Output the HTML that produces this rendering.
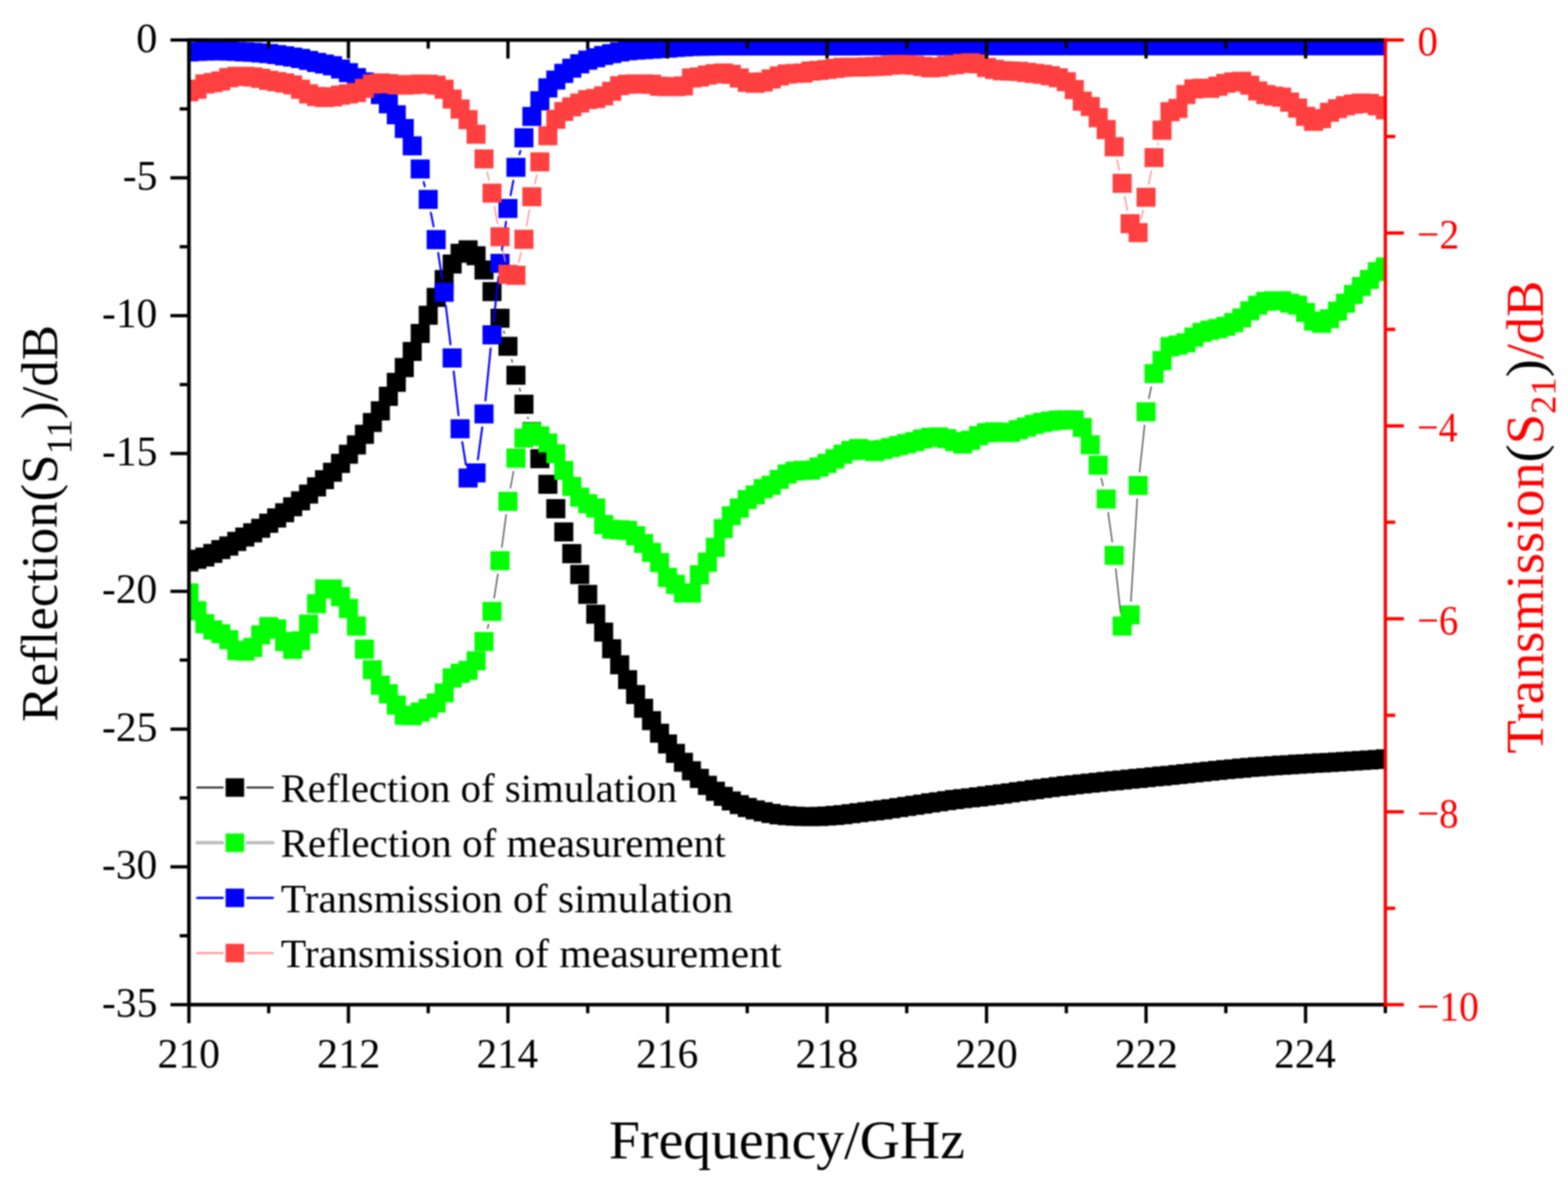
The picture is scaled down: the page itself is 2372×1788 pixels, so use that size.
<!DOCTYPE html>
<html><head><meta charset="utf-8"><title>Reflection and Transmission</title>
<style>html,body{margin:0;padding:0;background:#fff}svg{display:block;filter:blur(1.1px)}
text{font-family:"Liberation Serif",serif}</style></head>
<body>
<svg width="2372" height="1788" viewBox="0 0 2372 1788">
<rect width="2372" height="1788" fill="#fff"/>
<defs><clipPath id="pc"><rect x="285.8" y="60.5" width="1809.8999999999999" height="1459.3"/></clipPath></defs>
<g clip-path="url(#pc)">
<path d="M750.2 460.7L750.5 461.7M762.0 501.0L762.9 504.2M773.9 543.7L775.0 547.8M785.9 587.4L787.1 591.7M798.3 631.2L798.9 633.3M810.4 672.7L810.9 674.2" fill="none" stroke="#111" stroke-width="1.6" stroke-linecap="round"/>
<path d="M271.4 835.6h28.8v28.8h-28.8zM283.5 831.6h28.8v28.8h-28.8zM295.5 828.2h28.8v28.8h-28.8zM307.6 822.8h28.8v28.8h-28.8zM319.7 816.9h28.8v28.8h-28.8zM331.7 811.6h28.8v28.8h-28.8zM343.8 804.6h28.8v28.8h-28.8zM355.9 798.0h28.8v28.8h-28.8zM367.9 791.6h28.8v28.8h-28.8zM380.0 784.8h28.8v28.8h-28.8zM392.1 777.1h28.8v28.8h-28.8zM404.1 769.1h28.8v28.8h-28.8zM416.2 761.3h28.8v28.8h-28.8zM428.3 752.3h28.8v28.8h-28.8zM440.3 743.3h28.8v28.8h-28.8zM452.4 732.9h28.8v28.8h-28.8zM464.5 722.1h28.8v28.8h-28.8zM476.5 711.2h28.8v28.8h-28.8zM488.6 699.9h28.8v28.8h-28.8zM500.7 686.6h28.8v28.8h-28.8zM512.7 672.7h28.8v28.8h-28.8zM524.8 658.6h28.8v28.8h-28.8zM536.9 642.6h28.8v28.8h-28.8zM548.9 624.8h28.8v28.8h-28.8zM561.0 607.1h28.8v28.8h-28.8zM573.1 585.1h28.8v28.8h-28.8zM585.1 564.0h28.8v28.8h-28.8zM597.2 541.6h28.8v28.8h-28.8zM609.2 517.2h28.8v28.8h-28.8zM621.3 489.9h28.8v28.8h-28.8zM633.4 462.4h28.8v28.8h-28.8zM645.4 435.4h28.8v28.8h-28.8zM657.5 408.4h28.8v28.8h-28.8zM669.6 385.0h28.8v28.8h-28.8zM681.6 368.8h28.8v28.8h-28.8zM693.7 363.4h28.8v28.8h-28.8zM705.8 372.4h28.8v28.8h-28.8zM717.8 394.0h28.8v28.8h-28.8zM729.9 426.7h28.8v28.8h-28.8zM742.0 466.9h28.8v28.8h-28.8zM754.0 509.5h28.8v28.8h-28.8zM766.1 553.2h28.8v28.8h-28.8zM778.2 597.1h28.8v28.8h-28.8zM790.2 638.6h28.8v28.8h-28.8zM802.3 679.5h28.8v28.8h-28.8zM814.4 718.2h28.8v28.8h-28.8zM826.4 755.1h28.8v28.8h-28.8zM838.5 790.2h28.8v28.8h-28.8zM850.6 823.1h28.8v28.8h-28.8zM862.6 854.6h28.8v28.8h-28.8zM874.7 884.7h28.8v28.8h-28.8zM886.8 914.8h28.8v28.8h-28.8zM898.8 941.8h28.8v28.8h-28.8zM910.9 967.0h28.8v28.8h-28.8zM923.0 991.3h28.8v28.8h-28.8zM935.0 1013.8h28.8v28.8h-28.8zM947.1 1036.2h28.8v28.8h-28.8zM959.2 1056.9h28.8v28.8h-28.8zM971.2 1075.8h28.8v28.8h-28.8zM983.3 1094.7h28.8v28.8h-28.8zM995.4 1110.9h28.8v28.8h-28.8zM1007.4 1125.3h28.8v28.8h-28.8zM1019.5 1138.8h28.8v28.8h-28.8zM1031.6 1151.6h28.8v28.8h-28.8zM1043.6 1163.1h28.8v28.8h-28.8zM1055.7 1173.6h28.8v28.8h-28.8zM1067.8 1182.6h28.8v28.8h-28.8zM1079.8 1190.3h28.8v28.8h-28.8zM1091.9 1197.2h28.8v28.8h-28.8zM1104.0 1202.8h28.8v28.8h-28.8zM1116.0 1207.1h28.8v28.8h-28.8zM1128.1 1210.7h28.8v28.8h-28.8zM1140.2 1213.6h28.8v28.8h-28.8zM1152.2 1216.1h28.8v28.8h-28.8zM1164.3 1218.2h28.8v28.8h-28.8zM1176.3 1219.5h28.8v28.8h-28.8zM1188.4 1220.2h28.8v28.8h-28.8zM1200.5 1220.7h28.8v28.8h-28.8zM1212.5 1220.9h28.8v28.8h-28.8zM1224.6 1220.6h28.8v28.8h-28.8zM1236.7 1219.9h28.8v28.8h-28.8zM1248.7 1219.1h28.8v28.8h-28.8zM1260.8 1218.0h28.8v28.8h-28.8zM1272.9 1216.4h28.8v28.8h-28.8zM1284.9 1214.9h28.8v28.8h-28.8zM1297.0 1213.5h28.8v28.8h-28.8zM1309.1 1212.1h28.8v28.8h-28.8zM1321.1 1210.6h28.8v28.8h-28.8zM1333.2 1209.0h28.8v28.8h-28.8zM1345.3 1207.3h28.8v28.8h-28.8zM1357.3 1205.5h28.8v28.8h-28.8zM1369.4 1203.7h28.8v28.8h-28.8zM1381.5 1201.9h28.8v28.8h-28.8zM1393.5 1200.1h28.8v28.8h-28.8zM1405.6 1198.4h28.8v28.8h-28.8zM1417.7 1196.7h28.8v28.8h-28.8zM1429.7 1195.1h28.8v28.8h-28.8zM1441.8 1193.7h28.8v28.8h-28.8zM1453.9 1192.4h28.8v28.8h-28.8zM1465.9 1191.1h28.8v28.8h-28.8zM1478.0 1189.6h28.8v28.8h-28.8zM1490.1 1188.1h28.8v28.8h-28.8zM1502.1 1186.6h28.8v28.8h-28.8zM1514.2 1185.0h28.8v28.8h-28.8zM1526.3 1183.3h28.8v28.8h-28.8zM1538.3 1181.7h28.8v28.8h-28.8zM1550.4 1180.1h28.8v28.8h-28.8zM1562.5 1178.5h28.8v28.8h-28.8zM1574.5 1177.0h28.8v28.8h-28.8zM1586.6 1175.5h28.8v28.8h-28.8zM1598.7 1174.1h28.8v28.8h-28.8zM1610.7 1172.8h28.8v28.8h-28.8zM1622.8 1171.5h28.8v28.8h-28.8zM1634.9 1170.2h28.8v28.8h-28.8zM1646.9 1169.0h28.8v28.8h-28.8zM1659.0 1167.8h28.8v28.8h-28.8zM1671.1 1166.6h28.8v28.8h-28.8zM1683.1 1165.4h28.8v28.8h-28.8zM1695.2 1164.3h28.8v28.8h-28.8zM1707.3 1163.1h28.8v28.8h-28.8zM1719.3 1161.9h28.8v28.8h-28.8zM1731.4 1160.8h28.8v28.8h-28.8zM1743.5 1159.6h28.8v28.8h-28.8zM1755.5 1158.4h28.8v28.8h-28.8zM1767.6 1157.2h28.8v28.8h-28.8zM1779.6 1155.9h28.8v28.8h-28.8zM1791.7 1154.7h28.8v28.8h-28.8zM1803.8 1153.4h28.8v28.8h-28.8zM1815.8 1152.2h28.8v28.8h-28.8zM1827.9 1151.0h28.8v28.8h-28.8zM1840.0 1149.8h28.8v28.8h-28.8zM1852.0 1148.7h28.8v28.8h-28.8zM1864.1 1147.6h28.8v28.8h-28.8zM1876.2 1146.5h28.8v28.8h-28.8zM1888.2 1145.6h28.8v28.8h-28.8zM1900.3 1144.7h28.8v28.8h-28.8zM1912.4 1143.9h28.8v28.8h-28.8zM1924.4 1143.1h28.8v28.8h-28.8zM1936.5 1142.4h28.8v28.8h-28.8zM1948.6 1141.6h28.8v28.8h-28.8zM1960.6 1140.9h28.8v28.8h-28.8zM1972.7 1140.2h28.8v28.8h-28.8zM1984.8 1139.6h28.8v28.8h-28.8zM1996.8 1138.9h28.8v28.8h-28.8zM2008.9 1138.2h28.8v28.8h-28.8zM2021.0 1137.4h28.8v28.8h-28.8zM2033.0 1136.7h28.8v28.8h-28.8zM2045.1 1135.9h28.8v28.8h-28.8zM2057.2 1135.2h28.8v28.8h-28.8zM2069.2 1134.4h28.8v28.8h-28.8zM2081.3 1133.6h28.8v28.8h-28.8z" fill="#000"/>
<path d="M737.5 950.6L739.1 944.7M747.5 904.6L753.2 868.5M759.1 827.9L765.7 778.7M772.2 738.2L776.8 713.2M1666.0 723.7L1668.7 734.8M1676.3 775.1L1682.6 819.9M1687.8 860.6L1695.2 926.8M1710.8 909.6L1720.4 754.8M1723.9 713.9L1731.5 643.2M1737.9 602.7L1741.6 585.3" fill="none" stroke="#404040" stroke-width="1.8" stroke-linecap="round"/>
<path d="M271.4 882.6h28.8v28.8h-28.8zM283.5 909.6h28.8v28.8h-28.8zM295.5 929.1h28.8v28.8h-28.8zM307.6 938.6h28.8v28.8h-28.8zM319.7 944.2h28.8v28.8h-28.8zM331.7 953.2h28.8v28.8h-28.8zM343.8 969.6h28.8v28.8h-28.8zM355.9 970.8h28.8v28.8h-28.8zM367.9 965.1h28.8v28.8h-28.8zM380.0 946.0h28.8v28.8h-28.8zM392.1 933.6h28.8v28.8h-28.8zM404.1 937.1h28.8v28.8h-28.8zM416.2 956.1h28.8v28.8h-28.8zM428.3 967.9h28.8v28.8h-28.8zM440.3 954.9h28.8v28.8h-28.8zM452.4 929.8h28.8v28.8h-28.8zM464.5 898.8h28.8v28.8h-28.8zM476.5 876.6h28.8v28.8h-28.8zM488.6 876.6h28.8v28.8h-28.8zM500.7 888.1h28.8v28.8h-28.8zM512.7 906.1h28.8v28.8h-28.8zM524.8 932.6h28.8v28.8h-28.8zM536.9 967.6h28.8v28.8h-28.8zM548.9 998.8h28.8v28.8h-28.8zM561.0 1022.1h28.8v28.8h-28.8zM573.1 1035.1h28.8v28.8h-28.8zM585.1 1052.3h28.8v28.8h-28.8zM597.2 1067.6h28.8v28.8h-28.8zM609.2 1068.3h28.8v28.8h-28.8zM621.3 1062.8h28.8v28.8h-28.8zM633.4 1056.9h28.8v28.8h-28.8zM645.4 1049.0h28.8v28.8h-28.8zM657.5 1033.8h28.8v28.8h-28.8zM669.6 1011.1h28.8v28.8h-28.8zM681.6 1004.1h28.8v28.8h-28.8zM693.7 999.8h28.8v28.8h-28.8zM705.8 985.3h28.8v28.8h-28.8zM717.8 956.0h28.8v28.8h-28.8zM729.9 910.5h28.8v28.8h-28.8zM742.0 833.8h28.8v28.8h-28.8zM754.0 744.0h28.8v28.8h-28.8zM766.1 678.6h28.8v28.8h-28.8zM778.2 648.2h28.8v28.8h-28.8zM790.2 639.2h28.8v28.8h-28.8zM802.3 645.0h28.8v28.8h-28.8zM814.4 655.8h28.8v28.8h-28.8zM826.4 672.0h28.8v28.8h-28.8zM838.5 697.2h28.8v28.8h-28.8zM850.6 721.5h28.8v28.8h-28.8zM862.6 737.7h28.8v28.8h-28.8zM874.7 747.6h28.8v28.8h-28.8zM886.8 753.9h28.8v28.8h-28.8zM898.8 779.1h28.8v28.8h-28.8zM910.9 786.2h28.8v28.8h-28.8zM923.0 787.1h28.8v28.8h-28.8zM935.0 788.0h28.8v28.8h-28.8zM947.1 796.1h28.8v28.8h-28.8zM959.2 807.8h28.8v28.8h-28.8zM971.2 821.3h28.8v28.8h-28.8zM983.3 836.6h28.8v28.8h-28.8zM995.4 859.1h28.8v28.8h-28.8zM1007.4 869.6h28.8v28.8h-28.8zM1019.5 882.6h28.8v28.8h-28.8zM1031.6 882.6h28.8v28.8h-28.8zM1043.6 855.1h28.8v28.8h-28.8zM1055.7 836.1h28.8v28.8h-28.8zM1067.8 813.6h28.8v28.8h-28.8zM1079.8 785.3h28.8v28.8h-28.8zM1091.9 765.8h28.8v28.8h-28.8zM1104.0 754.1h28.8v28.8h-28.8zM1116.0 741.2h28.8v28.8h-28.8zM1128.1 734.2h28.8v28.8h-28.8zM1140.2 724.8h28.8v28.8h-28.8zM1152.2 719.8h28.8v28.8h-28.8zM1164.3 710.8h28.8v28.8h-28.8zM1176.3 702.6h28.8v28.8h-28.8zM1188.4 698.3h28.8v28.8h-28.8zM1200.5 697.1h28.8v28.8h-28.8zM1212.5 696.8h28.8v28.8h-28.8zM1224.6 692.1h28.8v28.8h-28.8zM1236.7 686.6h28.8v28.8h-28.8zM1248.7 679.6h28.8v28.8h-28.8zM1260.8 672.6h28.8v28.8h-28.8zM1272.9 667.1h28.8v28.8h-28.8zM1284.9 664.1h28.8v28.8h-28.8zM1297.0 666.6h28.8v28.8h-28.8zM1309.1 668.6h28.8v28.8h-28.8zM1321.1 665.6h28.8v28.8h-28.8zM1333.2 662.6h28.8v28.8h-28.8zM1345.3 659.6h28.8v28.8h-28.8zM1357.3 656.6h28.8v28.8h-28.8zM1369.4 653.6h28.8v28.8h-28.8zM1381.5 649.6h28.8v28.8h-28.8zM1393.5 647.1h28.8v28.8h-28.8zM1405.6 646.6h28.8v28.8h-28.8zM1417.7 649.1h28.8v28.8h-28.8zM1429.7 653.6h28.8v28.8h-28.8zM1441.8 657.1h28.8v28.8h-28.8zM1453.9 651.6h28.8v28.8h-28.8zM1465.9 644.6h28.8v28.8h-28.8zM1478.0 640.1h28.8v28.8h-28.8zM1490.1 638.8h28.8v28.8h-28.8zM1502.1 639.6h28.8v28.8h-28.8zM1514.2 639.6h28.8v28.8h-28.8zM1526.3 635.6h28.8v28.8h-28.8zM1538.3 631.6h28.8v28.8h-28.8zM1550.4 627.6h28.8v28.8h-28.8zM1562.5 624.6h28.8v28.8h-28.8zM1574.5 622.6h28.8v28.8h-28.8zM1586.6 621.1h28.8v28.8h-28.8zM1598.7 620.6h28.8v28.8h-28.8zM1610.7 620.8h28.8v28.8h-28.8zM1622.8 632.3h28.8v28.8h-28.8zM1634.9 658.4h28.8v28.8h-28.8zM1646.9 689.3h28.8v28.8h-28.8zM1659.0 740.4h28.8v28.8h-28.8zM1671.1 825.8h28.8v28.8h-28.8zM1683.1 932.8h28.8v28.8h-28.8zM1695.2 915.7h28.8v28.8h-28.8zM1707.3 719.9h28.8v28.8h-28.8zM1719.3 608.4h28.8v28.8h-28.8zM1731.4 550.8h28.8v28.8h-28.8zM1743.5 531.1h28.8v28.8h-28.8zM1755.5 510.1h28.8v28.8h-28.8zM1767.6 507.6h28.8v28.8h-28.8zM1779.6 504.3h28.8v28.8h-28.8zM1791.7 495.6h28.8v28.8h-28.8zM1803.8 488.4h28.8v28.8h-28.8zM1815.8 485.1h28.8v28.8h-28.8zM1827.9 482.6h28.8v28.8h-28.8zM1840.0 479.3h28.8v28.8h-28.8zM1852.0 473.6h28.8v28.8h-28.8zM1864.1 466.4h28.8v28.8h-28.8zM1876.2 455.8h28.8v28.8h-28.8zM1888.2 447.2h28.8v28.8h-28.8zM1900.3 441.4h28.8v28.8h-28.8zM1912.4 440.6h28.8v28.8h-28.8zM1924.4 440.6h28.8v28.8h-28.8zM1936.5 444.3h28.8v28.8h-28.8zM1948.6 447.2h28.8v28.8h-28.8zM1960.6 458.2h28.8v28.8h-28.8zM1972.7 471.2h28.8v28.8h-28.8zM1984.8 474.6h28.8v28.8h-28.8zM1996.8 467.8h28.8v28.8h-28.8zM2008.9 456.3h28.8v28.8h-28.8zM2021.0 444.3h28.8v28.8h-28.8zM2033.0 430.9h28.8v28.8h-28.8zM2045.1 418.9h28.8v28.8h-28.8zM2057.2 408.3h28.8v28.8h-28.8zM2069.2 396.4h28.8v28.8h-28.8zM2081.3 389.6h28.8v28.8h-28.8z" fill="#00ff00"/>
<path d="M640.9 275.4L642.6 281.9M651.8 321.8L655.9 342.4M662.9 382.8L668.8 421.7M674.4 462.4L681.5 521.1M686.3 561.9L693.7 628.2M699.3 668.8L704.8 703.0M722.9 695.1L729.5 646.5M734.3 605.8L742.3 526.9M746.6 486.1L754.1 418.8M759.3 378.1L765.5 335.6M772.4 295.2L776.6 273.3M785.8 233.4L787.2 228.3" fill="none" stroke="#0000ff" stroke-width="3" stroke-linecap="round"/>
<path d="M271.4 64.1h28.8v28.8h-28.8zM283.5 63.4h28.8v28.8h-28.8zM295.5 62.9h28.8v28.8h-28.8zM307.6 62.7h28.8v28.8h-28.8zM319.7 62.8h28.8v28.8h-28.8zM331.7 63.0h28.8v28.8h-28.8zM343.8 63.4h28.8v28.8h-28.8zM355.9 64.1h28.8v28.8h-28.8zM367.9 64.8h28.8v28.8h-28.8zM380.0 65.6h28.8v28.8h-28.8zM392.1 66.6h28.8v28.8h-28.8zM404.1 68.2h28.8v28.8h-28.8zM416.2 70.1h28.8v28.8h-28.8zM428.3 72.0h28.8v28.8h-28.8zM440.3 74.1h28.8v28.8h-28.8zM452.4 77.0h28.8v28.8h-28.8zM464.5 80.1h28.8v28.8h-28.8zM476.5 82.4h28.8v28.8h-28.8zM488.6 85.1h28.8v28.8h-28.8zM500.7 90.0h28.8v28.8h-28.8zM512.7 95.4h28.8v28.8h-28.8zM524.8 102.9h28.8v28.8h-28.8zM536.9 109.6h28.8v28.8h-28.8zM548.9 117.6h28.8v28.8h-28.8zM561.0 128.8h28.8v28.8h-28.8zM573.1 142.6h28.8v28.8h-28.8zM585.1 159.2h28.8v28.8h-28.8zM597.2 179.9h28.8v28.8h-28.8zM609.2 206.2h28.8v28.8h-28.8zM621.3 241.2h28.8v28.8h-28.8zM633.4 287.3h28.8v28.8h-28.8zM645.4 348.1h28.8v28.8h-28.8zM657.5 427.6h28.8v28.8h-28.8zM669.6 527.1h28.8v28.8h-28.8zM681.6 634.2h28.8v28.8h-28.8zM693.7 708.8h28.8v28.8h-28.8zM705.8 701.0h28.8v28.8h-28.8zM717.8 611.8h28.8v28.8h-28.8zM729.9 492.1h28.8v28.8h-28.8zM742.0 384.0h28.8v28.8h-28.8zM754.0 300.9h28.8v28.8h-28.8zM766.1 238.8h28.8v28.8h-28.8zM778.2 194.1h28.8v28.8h-28.8zM790.2 161.8h28.8v28.8h-28.8zM802.3 138.1h28.8v28.8h-28.8zM814.4 118.6h28.8v28.8h-28.8zM826.4 106.8h28.8v28.8h-28.8zM838.5 96.6h28.8v28.8h-28.8zM850.6 88.8h28.8v28.8h-28.8zM862.6 82.1h28.8v28.8h-28.8zM874.7 76.6h28.8v28.8h-28.8zM886.8 72.9h28.8v28.8h-28.8zM898.8 69.5h28.8v28.8h-28.8zM910.9 66.8h28.8v28.8h-28.8zM923.0 64.1h28.8v28.8h-28.8zM935.0 62.4h28.8v28.8h-28.8zM947.1 61.4h28.8v28.8h-28.8zM959.2 60.6h28.8v28.8h-28.8zM971.2 59.9h28.8v28.8h-28.8zM983.3 59.2h28.8v28.8h-28.8zM995.4 58.5h28.8v28.8h-28.8zM1007.4 57.5h28.8v28.8h-28.8zM1019.5 56.6h28.8v28.8h-28.8zM1031.6 56.0h28.8v28.8h-28.8zM1043.6 55.6h28.8v28.8h-28.8zM1055.7 55.4h28.8v28.8h-28.8zM1067.8 55.3h28.8v28.8h-28.8zM1079.8 55.3h28.8v28.8h-28.8zM1091.9 55.2h28.8v28.8h-28.8zM1104.0 55.2h28.8v28.8h-28.8zM1116.0 55.2h28.8v28.8h-28.8zM1128.1 55.2h28.8v28.8h-28.8zM1140.2 55.1h28.8v28.8h-28.8zM1152.2 55.1h28.8v28.8h-28.8zM1164.3 55.1h28.8v28.8h-28.8zM1176.3 55.1h28.8v28.8h-28.8zM1188.4 55.1h28.8v28.8h-28.8zM1200.5 55.1h28.8v28.8h-28.8zM1212.5 55.1h28.8v28.8h-28.8zM1224.6 55.1h28.8v28.8h-28.8zM1236.7 55.1h28.8v28.8h-28.8zM1248.7 55.1h28.8v28.8h-28.8zM1260.8 55.1h28.8v28.8h-28.8zM1272.9 55.1h28.8v28.8h-28.8zM1284.9 55.0h28.8v28.8h-28.8zM1297.0 55.0h28.8v28.8h-28.8zM1309.1 55.0h28.8v28.8h-28.8zM1321.1 55.0h28.8v28.8h-28.8zM1333.2 55.0h28.8v28.8h-28.8zM1345.3 55.0h28.8v28.8h-28.8zM1357.3 55.0h28.8v28.8h-28.8zM1369.4 55.0h28.8v28.8h-28.8zM1381.5 55.0h28.8v28.8h-28.8zM1393.5 55.0h28.8v28.8h-28.8zM1405.6 55.0h28.8v28.8h-28.8zM1417.7 55.0h28.8v28.8h-28.8zM1429.7 55.0h28.8v28.8h-28.8zM1441.8 55.0h28.8v28.8h-28.8zM1453.9 55.0h28.8v28.8h-28.8zM1465.9 55.0h28.8v28.8h-28.8zM1478.0 55.0h28.8v28.8h-28.8zM1490.1 55.0h28.8v28.8h-28.8zM1502.1 55.0h28.8v28.8h-28.8zM1514.2 55.0h28.8v28.8h-28.8zM1526.3 55.0h28.8v28.8h-28.8zM1538.3 55.0h28.8v28.8h-28.8zM1550.4 55.0h28.8v28.8h-28.8zM1562.5 55.0h28.8v28.8h-28.8zM1574.5 55.0h28.8v28.8h-28.8zM1586.6 55.0h28.8v28.8h-28.8zM1598.7 54.9h28.8v28.8h-28.8zM1610.7 54.9h28.8v28.8h-28.8zM1622.8 54.9h28.8v28.8h-28.8zM1634.9 54.9h28.8v28.8h-28.8zM1646.9 54.9h28.8v28.8h-28.8zM1659.0 54.9h28.8v28.8h-28.8zM1671.1 54.9h28.8v28.8h-28.8zM1683.1 54.9h28.8v28.8h-28.8zM1695.2 54.9h28.8v28.8h-28.8zM1707.3 54.9h28.8v28.8h-28.8zM1719.3 54.9h28.8v28.8h-28.8zM1731.4 54.9h28.8v28.8h-28.8zM1743.5 54.9h28.8v28.8h-28.8zM1755.5 54.9h28.8v28.8h-28.8zM1767.6 54.9h28.8v28.8h-28.8zM1779.6 54.9h28.8v28.8h-28.8zM1791.7 54.9h28.8v28.8h-28.8zM1803.8 54.9h28.8v28.8h-28.8zM1815.8 54.9h28.8v28.8h-28.8zM1827.9 54.9h28.8v28.8h-28.8zM1840.0 54.9h28.8v28.8h-28.8zM1852.0 54.9h28.8v28.8h-28.8zM1864.1 54.9h28.8v28.8h-28.8zM1876.2 54.9h28.8v28.8h-28.8zM1888.2 54.9h28.8v28.8h-28.8zM1900.3 54.9h28.8v28.8h-28.8zM1912.4 54.9h28.8v28.8h-28.8zM1924.4 54.9h28.8v28.8h-28.8zM1936.5 54.9h28.8v28.8h-28.8zM1948.6 54.9h28.8v28.8h-28.8zM1960.6 54.9h28.8v28.8h-28.8zM1972.7 54.9h28.8v28.8h-28.8zM1984.8 54.9h28.8v28.8h-28.8zM1996.8 54.9h28.8v28.8h-28.8zM2008.9 54.9h28.8v28.8h-28.8zM2021.0 54.9h28.8v28.8h-28.8zM2033.0 54.9h28.8v28.8h-28.8zM2045.1 54.9h28.8v28.8h-28.8zM2057.2 54.9h28.8v28.8h-28.8zM2069.2 54.9h28.8v28.8h-28.8zM2081.3 54.9h28.8v28.8h-28.8z" fill="#0000ff"/>
<path d="M736.9 260.3L739.7 272.2M748.0 312.4L752.7 338.0M760.6 378.3L764.2 394.9M784.9 396.5L788.1 382.0M796.4 341.9L800.9 317.8M809.2 277.7L812.1 264.8M1689.8 242.0L1693.2 257.4M1701.5 297.5L1705.6 318.3M1726.2 331.8L1729.2 318.4M1737.8 278.3L1741.7 258.5M1751.5 218.7L1752.1 216.7" fill="none" stroke="#ff8c8c" stroke-width="2" stroke-linecap="round"/>
<path d="M271.4 124.4h28.8v28.8h-28.8zM283.5 120.6h28.8v28.8h-28.8zM295.5 112.6h28.8v28.8h-28.8zM307.6 110.6h28.8v28.8h-28.8zM319.7 107.9h28.8v28.8h-28.8zM331.7 103.1h28.8v28.8h-28.8zM343.8 101.1h28.8v28.8h-28.8zM355.9 101.1h28.8v28.8h-28.8zM367.9 102.1h28.8v28.8h-28.8zM380.0 104.1h28.8v28.8h-28.8zM392.1 107.1h28.8v28.8h-28.8zM404.1 109.1h28.8v28.8h-28.8zM416.2 111.1h28.8v28.8h-28.8zM428.3 113.9h28.8v28.8h-28.8zM440.3 120.6h28.8v28.8h-28.8zM452.4 127.6h28.8v28.8h-28.8zM464.5 131.6h28.8v28.8h-28.8zM476.5 133.1h28.8v28.8h-28.8zM488.6 132.1h28.8v28.8h-28.8zM500.7 129.6h28.8v28.8h-28.8zM512.7 127.6h28.8v28.8h-28.8zM524.8 125.6h28.8v28.8h-28.8zM536.9 119.3h28.8v28.8h-28.8zM548.9 112.6h28.8v28.8h-28.8zM561.0 111.1h28.8v28.8h-28.8zM573.1 112.1h28.8v28.8h-28.8zM585.1 113.6h28.8v28.8h-28.8zM597.2 114.4h28.8v28.8h-28.8zM609.2 113.6h28.8v28.8h-28.8zM621.3 112.7h28.8v28.8h-28.8zM633.4 112.9h28.8v28.8h-28.8zM645.4 114.4h28.8v28.8h-28.8zM657.5 120.6h28.8v28.8h-28.8zM669.6 135.4h28.8v28.8h-28.8zM681.6 150.6h28.8v28.8h-28.8zM693.7 166.6h28.8v28.8h-28.8zM705.8 188.8h28.8v28.8h-28.8zM717.8 225.9h28.8v28.8h-28.8zM729.9 277.8h28.8v28.8h-28.8zM742.0 343.8h28.8v28.8h-28.8zM754.0 400.6h28.8v28.8h-28.8zM766.1 402.1h28.8v28.8h-28.8zM778.2 347.6h28.8v28.8h-28.8zM790.2 283.3h28.8v28.8h-28.8zM802.3 230.4h28.8v28.8h-28.8zM814.4 190.9h28.8v28.8h-28.8zM826.4 166.1h28.8v28.8h-28.8zM838.5 154.3h28.8v28.8h-28.8zM850.6 147.2h28.8v28.8h-28.8zM862.6 141.4h28.8v28.8h-28.8zM874.7 136.3h28.8v28.8h-28.8zM886.8 134.6h28.8v28.8h-28.8zM898.8 130.6h28.8v28.8h-28.8zM910.9 123.8h28.8v28.8h-28.8zM923.0 115.3h28.8v28.8h-28.8zM935.0 113.0h28.8v28.8h-28.8zM947.1 112.6h28.8v28.8h-28.8zM959.2 112.6h28.8v28.8h-28.8zM971.2 113.1h28.8v28.8h-28.8zM983.3 116.1h28.8v28.8h-28.8zM995.4 116.6h28.8v28.8h-28.8zM1007.4 116.6h28.8v28.8h-28.8zM1019.5 115.6h28.8v28.8h-28.8zM1031.6 103.6h28.8v28.8h-28.8zM1043.6 102.1h28.8v28.8h-28.8zM1055.7 99.1h28.8v28.8h-28.8zM1067.8 97.1h28.8v28.8h-28.8zM1079.8 96.1h28.8v28.8h-28.8zM1091.9 98.1h28.8v28.8h-28.8zM1104.0 103.6h28.8v28.8h-28.8zM1116.0 110.1h28.8v28.8h-28.8zM1128.1 111.6h28.8v28.8h-28.8zM1140.2 109.6h28.8v28.8h-28.8zM1152.2 105.1h28.8v28.8h-28.8zM1164.3 100.6h28.8v28.8h-28.8zM1176.3 97.6h28.8v28.8h-28.8zM1188.4 96.8h28.8v28.8h-28.8zM1200.5 96.1h28.8v28.8h-28.8zM1212.5 93.1h28.8v28.8h-28.8zM1224.6 92.1h28.8v28.8h-28.8zM1236.7 90.8h28.8v28.8h-28.8zM1248.7 89.1h28.8v28.8h-28.8zM1260.8 87.6h28.8v28.8h-28.8zM1272.9 87.2h28.8v28.8h-28.8zM1284.9 87.2h28.8v28.8h-28.8zM1297.0 86.8h28.8v28.8h-28.8zM1309.1 86.2h28.8v28.8h-28.8zM1321.1 85.6h28.8v28.8h-28.8zM1333.2 84.3h28.8v28.8h-28.8zM1345.3 83.1h28.8v28.8h-28.8zM1357.3 83.6h28.8v28.8h-28.8zM1369.4 84.4h28.8v28.8h-28.8zM1381.5 86.1h28.8v28.8h-28.8zM1393.5 88.1h28.8v28.8h-28.8zM1405.6 87.1h28.8v28.8h-28.8zM1417.7 84.6h28.8v28.8h-28.8zM1429.7 83.5h28.8v28.8h-28.8zM1441.8 81.6h28.8v28.8h-28.8zM1453.9 80.4h28.8v28.8h-28.8zM1465.9 82.2h28.8v28.8h-28.8zM1478.0 87.6h28.8v28.8h-28.8zM1490.1 90.6h28.8v28.8h-28.8zM1502.1 92.6h28.8v28.8h-28.8zM1514.2 93.1h28.8v28.8h-28.8zM1526.3 93.6h28.8v28.8h-28.8zM1538.3 95.1h28.8v28.8h-28.8zM1550.4 96.6h28.8v28.8h-28.8zM1562.5 98.0h28.8v28.8h-28.8zM1574.5 100.1h28.8v28.8h-28.8zM1586.6 103.2h28.8v28.8h-28.8zM1598.7 109.3h28.8v28.8h-28.8zM1610.7 121.1h28.8v28.8h-28.8zM1622.8 138.6h28.8v28.8h-28.8zM1634.9 146.8h28.8v28.8h-28.8zM1646.9 163.6h28.8v28.8h-28.8zM1659.0 181.6h28.8v28.8h-28.8zM1671.1 207.6h28.8v28.8h-28.8zM1683.1 263.0h28.8v28.8h-28.8zM1695.2 324.0h28.8v28.8h-28.8zM1707.3 337.4h28.8v28.8h-28.8zM1719.3 284.0h28.8v28.8h-28.8zM1731.4 224.0h28.8v28.8h-28.8zM1743.5 182.6h28.8v28.8h-28.8zM1755.5 154.6h28.8v28.8h-28.8zM1767.6 149.6h28.8v28.8h-28.8zM1779.6 128.6h28.8v28.8h-28.8zM1791.7 120.1h28.8v28.8h-28.8zM1803.8 119.1h28.8v28.8h-28.8zM1815.8 119.1h28.8v28.8h-28.8zM1827.9 116.1h28.8v28.8h-28.8zM1840.0 111.8h28.8v28.8h-28.8zM1852.0 109.6h28.8v28.8h-28.8zM1864.1 108.6h28.8v28.8h-28.8zM1876.2 114.4h28.8v28.8h-28.8zM1888.2 123.2h28.8v28.8h-28.8zM1900.3 128.6h28.8v28.8h-28.8zM1912.4 130.9h28.8v28.8h-28.8zM1924.4 132.6h28.8v28.8h-28.8zM1936.5 140.1h28.8v28.8h-28.8zM1948.6 149.1h28.8v28.8h-28.8zM1960.6 161.6h28.8v28.8h-28.8zM1972.7 169.2h28.8v28.8h-28.8zM1984.8 165.1h28.8v28.8h-28.8zM1996.8 155.4h28.8v28.8h-28.8zM2008.9 150.0h28.8v28.8h-28.8zM2021.0 145.6h28.8v28.8h-28.8zM2033.0 143.1h28.8v28.8h-28.8zM2045.1 141.6h28.8v28.8h-28.8zM2057.2 142.1h28.8v28.8h-28.8zM2069.2 145.6h28.8v28.8h-28.8zM2081.3 151.6h28.8v28.8h-28.8z" fill="#ff4040"/>
</g>
<path d="M257.8 60.5H285.8M271.8 164.7H285.8M257.8 269.0H285.8M271.8 373.2H285.8M257.8 477.4H285.8M271.8 581.7H285.8M257.8 685.9H285.8M271.8 790.1H285.8M257.8 894.4H285.8M271.8 998.6H285.8M257.8 1102.9H285.8M271.8 1207.1H285.8M257.8 1311.3H285.8M271.8 1415.6H285.8M257.8 1519.8H285.8M285.8 1519.8V1547.8M285.8 60.5V88.5M406.5 1519.8V1532.8M406.5 60.5V73.5M527.1 1519.8V1547.8M527.1 60.5V88.5M647.8 1519.8V1532.8M647.8 60.5V73.5M768.4 1519.8V1547.8M768.4 60.5V88.5M889.1 1519.8V1532.8M889.1 60.5V73.5M1009.8 1519.8V1547.8M1009.8 60.5V88.5M1130.4 1519.8V1532.8M1130.4 60.5V73.5M1251.1 1519.8V1547.8M1251.1 60.5V88.5M1371.7 1519.8V1532.8M1371.7 60.5V73.5M1492.4 1519.8V1547.8M1492.4 60.5V88.5M1613.1 1519.8V1532.8M1613.1 60.5V73.5M1733.7 1519.8V1547.8M1733.7 60.5V88.5M1854.4 1519.8V1532.8M1854.4 60.5V73.5M1975.0 1519.8V1547.8M1975.0 60.5V88.5M2095.7 1519.8V1532.8M2095.7 60.5V73.5" stroke="#000" stroke-width="5" fill="none"/>
<path d="M285.8 57.8V1522.5M283.1 1519.8H2095.7M283.1 60.5H2095.7" stroke="#000" stroke-width="5.5" fill="none"/>
<path d="M2095.7 60.5H2123.7M2095.7 206.4H2110.7M2095.7 352.4H2123.7M2095.7 498.3H2110.7M2095.7 644.2H2123.7M2095.7 790.1H2110.7M2095.7 936.1H2123.7M2095.7 1082.0H2110.7M2095.7 1227.9H2123.7M2095.7 1373.9H2110.7M2095.7 1519.8H2123.7M2095.7 57.8V1522.5" stroke="#ff0000" stroke-width="5" fill="none"/>
<text x="206.0" y="78.5" font-size="64" textLength="32.1" lengthAdjust="spacingAndGlyphs">0</text>
<text x="185.8" y="287.0" font-size="64" textLength="52.3" lengthAdjust="spacingAndGlyphs">-5</text>
<text x="154.3" y="495.4" font-size="64" textLength="83.7" lengthAdjust="spacingAndGlyphs">-10</text>
<text x="154.3" y="703.9" font-size="64" textLength="83.8" lengthAdjust="spacingAndGlyphs">-15</text>
<text x="154.3" y="912.4" font-size="64" textLength="83.7" lengthAdjust="spacingAndGlyphs">-20</text>
<text x="154.3" y="1120.9" font-size="64" textLength="83.8" lengthAdjust="spacingAndGlyphs">-25</text>
<text x="154.3" y="1329.3" font-size="64" textLength="83.7" lengthAdjust="spacingAndGlyphs">-30</text>
<text x="154.3" y="1537.8" font-size="64" textLength="83.8" lengthAdjust="spacingAndGlyphs">-35</text>
<text x="238.3" y="1615" font-size="64" textLength="94.6" lengthAdjust="spacingAndGlyphs">210</text>
<text x="479.6" y="1615" font-size="64" textLength="95.7" lengthAdjust="spacingAndGlyphs">212</text>
<text x="721.0" y="1615" font-size="64" textLength="93.1" lengthAdjust="spacingAndGlyphs">214</text>
<text x="962.3" y="1615" font-size="64" textLength="94.0" lengthAdjust="spacingAndGlyphs">216</text>
<text x="1203.6" y="1615" font-size="64" textLength="94.6" lengthAdjust="spacingAndGlyphs">218</text>
<text x="1444.9" y="1615" font-size="64" textLength="94.6" lengthAdjust="spacingAndGlyphs">220</text>
<text x="1686.2" y="1615" font-size="64" textLength="95.7" lengthAdjust="spacingAndGlyphs">222</text>
<text x="1927.6" y="1615" font-size="64" textLength="93.1" lengthAdjust="spacingAndGlyphs">224</text>
<text x="2144.2" y="84.3" font-size="64" fill="#ff0000" textLength="31.0" lengthAdjust="spacingAndGlyphs">0</text>
<text x="2143.6" y="376.2" font-size="64" fill="#ff0000" textLength="63.9" lengthAdjust="spacingAndGlyphs">−2</text>
<text x="2143.7" y="668.0" font-size="64" fill="#ff0000" textLength="61.4" lengthAdjust="spacingAndGlyphs">−4</text>
<text x="2143.7" y="959.9" font-size="64" fill="#ff0000" textLength="62.3" lengthAdjust="spacingAndGlyphs">−6</text>
<text x="2143.7" y="1251.7" font-size="64" fill="#ff0000" textLength="62.8" lengthAdjust="spacingAndGlyphs">−8</text>
<text x="2143.6" y="1543.6" font-size="64" fill="#ff0000" textLength="93.6" lengthAdjust="spacingAndGlyphs">−10</text>
<text x="921.2" y="1751.8" font-size="82" textLength="538.4" lengthAdjust="spacingAndGlyphs">Frequency/GHz</text>
<text transform="translate(85.6,1091.9) rotate(-90) scale(1.0264,1)" font-size="78">Reflection(S<tspan font-size="54" dy="22.5">11</tspan><tspan dy="-22.5">)/dB</tspan></text>
<text transform="translate(2334.4,1139.9) rotate(-90) scale(1.0286,1)" font-size="80" fill="#ff0000">Transmission<tspan fill="#000">(</tspan>S<tspan font-size="54" dy="18.6">21</tspan><tspan dy="-18.6" fill="#000">)</tspan>/dB</text>
<path d="M298.3 1191.3H337M374 1191.3H412.8" stroke="#333" stroke-width="3" stroke-linecap="round"/><rect x="341.3" y="1177.3" width="28" height="28" fill="#000"/><text x="424.4" y="1212.6" font-size="61" textLength="599.9" lengthAdjust="spacingAndGlyphs">Reflection of simulation</text>
<path d="M298.3 1274.8H337M374 1274.8H412.8" stroke="#bcbcbc" stroke-width="5" stroke-linecap="round"/><rect x="341.3" y="1260.8" width="28" height="28" fill="#00ff00"/><text x="424.4" y="1296.0" font-size="61" textLength="673.3" lengthAdjust="spacingAndGlyphs">Reflection of measurement</text>
<path d="M298.3 1358.2H337M374 1358.2H412.8" stroke="#0000ff" stroke-width="3.5" stroke-linecap="round"/><rect x="341.3" y="1344.2" width="28" height="28" fill="#0000ff"/><text x="424.7" y="1379.5" font-size="61" textLength="684.1" lengthAdjust="spacingAndGlyphs">Transmission of simulation</text>
<path d="M298.3 1441.7H337M374 1441.7H412.8" stroke="#ff9494" stroke-width="3" stroke-linecap="round"/><rect x="341.3" y="1427.7" width="28" height="28" fill="#ff4040"/><text x="424.7" y="1463.0" font-size="61" textLength="757.5" lengthAdjust="spacingAndGlyphs">Transmission of measurement</text>
</svg>
</body></html>
